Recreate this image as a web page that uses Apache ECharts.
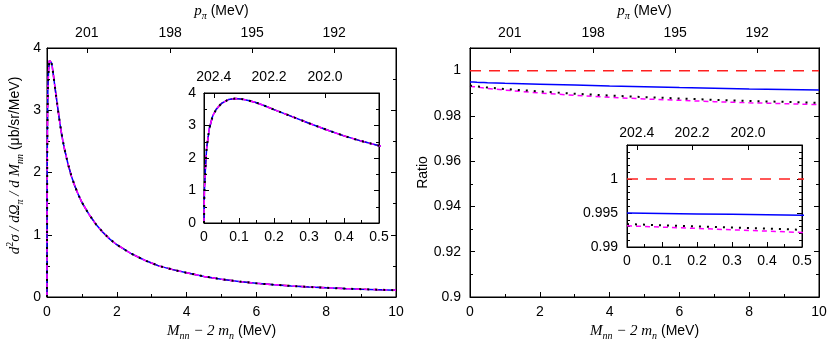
<!DOCTYPE html>
<html>
<head>
<meta charset="utf-8">
<script src="https://cdn.jsdelivr.net/npm/echarts@6/dist/echarts.min.js"></script>
<style>html,body{margin:0;padding:0;background:#fff}#c{width:830px;height:344px}</style>
</head>
<body>
<div id="c"></div>
<script>
// ---- data ----
const mnn = [0, 0.001, 0.002, 0.004, 0.0075, 0.015, 0.025, 0.035, 0.05, 0.07, 0.09, 0.11, 0.13, 0.15, 0.175, 0.2, 0.25, 0.3, 0.35, 0.4, 0.45, 0.5, 0.6, 0.7, 0.8, 0.9, 1.0, 1.2, 1.4, 1.6, 1.8, 2.0, 2.4, 2.8, 3.2, 3.6, 4.0, 4.5, 5.0, 5.5, 6.0, 6.5, 7.0, 7.5, 8.0, 8.5, 9.0, 9.5, 10];
const xsec = [0, 0.9, 1.2, 1.65, 2.3, 2.9, 3.3, 3.5, 3.68, 3.8, 3.83, 3.81, 3.76, 3.70, 3.60, 3.49, 3.28, 3.07, 2.87, 2.68, 2.52, 2.38, 2.14, 1.94, 1.78, 1.64, 1.52, 1.33, 1.17, 1.04, 0.93, 0.84, 0.70, 0.59, 0.50, 0.44, 0.39, 0.33, 0.285, 0.25, 0.22, 0.197, 0.178, 0.162, 0.148, 0.136, 0.126, 0.117, 0.109];

const ratioX = [0, 0.1, 0.2, 0.3, 0.4, 0.5, 1, 2, 3, 4, 5, 6, 7, 8, 9, 10];
const ratioRed = [1, 1, 1, 1, 1, 1, 1, 1, 1, 1, 1, 1, 1, 1, 1, 1];
const ratioBlue = [0.99500, 0.99493, 0.99486, 0.99480, 0.99473, 0.99466, 0.9944, 0.9940, 0.9936, 0.9932, 0.9929, 0.9925, 0.9922, 0.9919, 0.9917, 0.9915];
const ratioBlack = [0.99337, 0.99320, 0.99303, 0.99286, 0.99270, 0.99253, 0.9919, 0.9908, 0.9898, 0.9890, 0.9883, 0.9877, 0.9871, 0.9866, 0.9862, 0.9858];
const ratioMagenta = [0.99312, 0.99292, 0.99273, 0.99253, 0.99234, 0.99214, 0.9914, 0.9901, 0.9891, 0.9882, 0.9875, 0.9869, 0.9863, 0.9858, 0.9854, 0.9850];

const pTickPos = [1.14, 3.53, 5.88, 8.23];
const pTickLabels = ['201', '198', '195', '192'];
const pInsetPos = [0.028, 0.186, 0.346];
const pInsetLabels = ['202.4', '202.2', '202.0'];

// ---- styling helpers ----
const FONT = 'Liberation Sans, Arial, sans-serif';
const SERIF = 'Liberation Serif, Times New Roman, serif';
const BLACK = '#000';
const richMath = {
  it: {fontFamily: SERIF, fontStyle: 'italic', fontSize: 15, lineHeight: 20, color: BLACK, verticalAlign: 'middle'},
  sub: {fontFamily: SERIF, fontStyle: 'italic', fontSize: 10, lineHeight: 10, color: BLACK, verticalAlign: 'bottom'},
  sup: {fontFamily: SERIF, fontSize: 10, lineHeight: 10, color: BLACK, verticalAlign: 'top'},
  t: {fontFamily: FONT, fontSize: 14, lineHeight: 20, color: BLACK, verticalAlign: 'middle'}
};
const lineStyleAxis = {color: BLACK, width: 1};

function tick(show, len) { return {show: show, inside: true, length: len || 5, lineStyle: lineStyleAxis}; }
function minor(n) { return {show: true, splitNumber: n, length: 3, lineStyle: lineStyleAxis}; }

function axis(o) {
  const a = {
    type: 'value', gridIndex: o.grid, position: o.pos, min: o.min, max: o.max,
    splitLine: {show: false},
    axisLine: {show: true, onZero: false, lineStyle: lineStyleAxis},
    axisTick: tick(o.ticks !== false, o.tickLen),
    minorTick: o.minor ? minor(o.minor) : {show: false},
    axisLabel: {show: !!o.labels, color: BLACK, fontFamily: FONT, fontSize: 14, margin: o.margin || 7,
                showMaxLabel: o.showMax !== false, showMinLabel: true},
    z: o.z || 0
  };
  if (o.interval !== undefined) a.interval = o.interval;
  if (o.custom) {
    a.axisTick.customValues = o.custom;
    a.axisLabel.customValues = o.custom;
    const pos = o.custom, labs = o.customLabels;
    a.axisLabel.formatter = function (v) {
      const i = pos.findIndex(function (p) { return Math.abs(p - v) < 1e-9; });
      return i >= 0 ? labs[i] : '';
    };
  }
  if (o.name) {
    a.name = o.name;
    a.nameLocation = 'middle';
    a.nameGap = o.nameGap;
    a.nameTextStyle = {rich: richMath, fontFamily: FONT, fontSize: 14, color: BLACK};
    if (o.namePadding) a.nameTextStyle.padding = o.namePadding;
    if (o.nameRotate !== undefined) a.nameRotate = o.nameRotate;
  }
  return a;
}

const grids = [
  {left: 47, top: 48, width: 349, height: 249},
  {left: 204, top: 93, width: 175, height: 130, z: 3},
  {left: 470, top: 48, width: 349, height: 249},
  {left: 627, top: 145, width: 175, height: 102, z: 3}
].map(function (g) {
  return Object.assign({show: true, borderColor: BLACK, borderWidth: 1, backgroundColor: '#fff',
                        containLabel: false, outerBoundsMode: 'none'}, g);
});

const xNameBottom = '{it|M}{sub|nn}{it| − 2 m}{sub|n}{t| (MeV)}';
const xNameTop = '{it|p}{sub|π}{t| (MeV)}';
const yNameLeft = '{it|d}{sup|2}{it|σ / dΩ}{sub|π}{it| / d M}{sub|nn}{t| (μb/sr/MeV)}';

const xAxes = [
  axis({grid: 0, pos: 'bottom', min: 0, max: 10, interval: 2, minor: 2, labels: true, margin: 8, name: xNameBottom, nameGap: 22}),
  axis({grid: 0, pos: 'top', min: 0, max: 10, labels: true, margin: 8, custom: pTickPos, customLabels: pTickLabels, name: xNameTop, nameGap: 26}),
  axis({grid: 1, pos: 'bottom', min: 0, max: 0.5, interval: 0.1, minor: 2, labels: true, margin: 7, z: 5}),
  axis({grid: 1, pos: 'top', min: 0, max: 0.5, labels: true, margin: 9, custom: pInsetPos, customLabels: pInsetLabels, z: 5}),
  axis({grid: 2, pos: 'bottom', min: 0, max: 10, interval: 2, minor: 2, labels: true, margin: 8, name: xNameBottom, nameGap: 22}),
  axis({grid: 2, pos: 'top', min: 0, max: 10, labels: true, margin: 8, custom: pTickPos, customLabels: pTickLabels, name: xNameTop, nameGap: 26}),
  axis({grid: 3, pos: 'bottom', min: 0, max: 0.5, interval: 0.1, minor: 2, labels: true, margin: 7, z: 5}),
  axis({grid: 3, pos: 'top', min: 0, max: 0.5, labels: true, margin: 5, custom: pInsetPos, customLabels: pInsetLabels, z: 5})
];

const yAxes = [
  axis({grid: 0, pos: 'left', min: 0, max: 4, interval: 1, minor: 2, labels: true, margin: 6, name: yNameLeft, nameGap: 22, nameRotate: 90, namePadding: [0, 0, 0, 14]}),
  axis({grid: 0, pos: 'right', min: 0, max: 4, interval: 1, minor: 2}),
  axis({grid: 1, pos: 'left', min: 0, max: 4, interval: 1, minor: 2, labels: true, margin: 8, z: 5}),
  axis({grid: 1, pos: 'right', min: 0, max: 4, interval: 1, minor: 2, z: 5}),
  axis({grid: 2, pos: 'left', min: 0.9, max: 1.01, interval: 0.02, labels: true, margin: 9, showMax: false, name: 'Ratio', nameGap: 40, nameRotate: 90}),
  axis({grid: 2, pos: 'right', min: 0.9, max: 1.01, interval: 0.02}),
  axis({grid: 2, pos: 'left', min: 0.9, max: 1.01, interval: 0.01, tickLen: 3}),
  axis({grid: 2, pos: 'right', min: 0.9, max: 1.01, interval: 0.01, tickLen: 3}),
  axis({grid: 3, pos: 'left', min: 0.99, max: 1.005, interval: 0.005, minor: 5, labels: true, margin: 9, showMax: false, z: 5}),
  axis({grid: 3, pos: 'right', min: 0.99, max: 1.005, interval: 0.005, minor: 5, z: 5})
];
yAxes[4].nameTextStyle = {fontFamily: FONT, fontSize: 14, color: BLACK};

function zip(xs, ys) { return xs.map(function (x, i) { return [x, ys[i]]; }); }

const styles = [
  {color: '#ff2020', type: [11, 8], width: 1.5},
  {color: '#0000ff', type: 'solid', width: 1.5},
  {color: '#ff00ff', type: [5, 4], width: 1.5},
  {color: '#000000', type: [2, 6], width: 2}
];

const series = [];
function addSet(xi, yi, xs, ysList, inset) {
  ysList.forEach(function (ys, k) {
    series.push({
      type: 'line', xAxisIndex: xi, yAxisIndex: yi, data: zip(xs, ys),
      showSymbol: false, symbol: 'none', clip: true, animation: false, smooth: false,
      lineStyle: {color: styles[k].color, type: styles[k].type, width: styles[k].width},
      z: inset ? 6 + k : 2 + k
    });
  });
}
addSet(0, 0, mnn, [xsec, xsec, xsec, xsec], false);
addSet(2, 2, mnn, [xsec, xsec, xsec, xsec], true);
addSet(4, 4, ratioX, [ratioRed, ratioBlue, ratioMagenta, ratioBlack], false);
addSet(6, 8, ratioX, [ratioRed, ratioBlue, ratioMagenta, ratioBlack], true);

const chart = echarts.init(document.getElementById('c'), null, {renderer: 'canvas'});
chart.setOption({
  animation: false,
  backgroundColor: '#fff',
  grid: grids,
  xAxis: xAxes,
  yAxis: yAxes,
  series: series
});
</script>
</body>
</html>
